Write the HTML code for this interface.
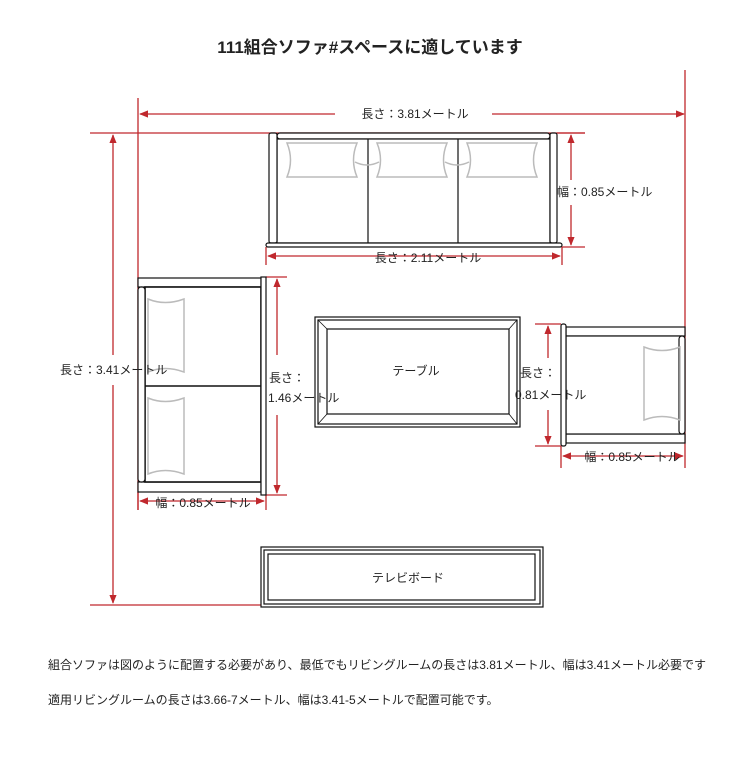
<!DOCTYPE html>
<html><head><meta charset="utf-8"><style>
body{margin:0;background:#fff}
svg{display:block}
text{font-family:"Liberation Sans","Noto Sans CJK JP",sans-serif;fill:#222}
</style></head><body>
<svg width="750" height="759" viewBox="0 0 750 759" xmlns="http://www.w3.org/2000/svg">
<defs>
<marker id="a" viewBox="0 0 10 10" refX="9" refY="5" markerWidth="7" markerHeight="7" orient="auto-start-reverse"><path d="M0,1 L10,5 L0,9z" fill="#c0282d"/></marker>
</defs>
<text x="370" y="53" font-size="17" text-anchor="middle" font-weight="bold">111組合ソファ#スペースに適しています</text>
<g stroke="#c0282d" stroke-width="1.3" fill="none">
<line x1="138" y1="98" x2="138" y2="510"/>
<line x1="685" y1="70" x2="685" y2="468"/>
<line x1="90" y1="133" x2="585" y2="133"/>
<line x1="90" y1="605" x2="261" y2="605"/>
<line x1="140" y1="114" x2="335" y2="114" marker-start="url(#a)"/>
<line x1="492" y1="114" x2="684" y2="114" marker-end="url(#a)"/>
<line x1="113" y1="135" x2="113" y2="355" marker-start="url(#a)"/>
<line x1="113" y1="385" x2="113" y2="603" marker-end="url(#a)"/>
<line x1="557" y1="133" x2="585" y2="133"/><line x1="562" y1="247" x2="585" y2="247"/>
<line x1="571" y1="135" x2="571" y2="180" marker-start="url(#a)"/>
<line x1="571" y1="205" x2="571" y2="245" marker-end="url(#a)"/>
<line x1="266" y1="247" x2="266" y2="265"/><line x1="562" y1="247" x2="562" y2="265"/>
<line x1="268" y1="256" x2="560" y2="256" marker-start="url(#a)" marker-end="url(#a)"/>
<line x1="266" y1="277" x2="287" y2="277"/><line x1="266" y1="495" x2="287" y2="495"/>
<line x1="277" y1="279" x2="277" y2="355" marker-start="url(#a)"/>
<line x1="277" y1="415" x2="277" y2="493" marker-end="url(#a)"/>
<line x1="138" y1="492" x2="138" y2="510"/><line x1="266" y1="495" x2="266" y2="510"/>
<line x1="140" y1="501" x2="264" y2="501" marker-start="url(#a)" marker-end="url(#a)"/>
<line x1="535" y1="324" x2="561" y2="324"/><line x1="535" y1="446" x2="561" y2="446"/>
<line x1="548" y1="326" x2="548" y2="358" marker-start="url(#a)"/>
<line x1="548" y1="410" x2="548" y2="444" marker-end="url(#a)"/>
<line x1="561" y1="446" x2="561" y2="468"/>
<line x1="563" y1="456" x2="683" y2="456" marker-start="url(#a)" marker-end="url(#a)"/>
</g>
<g stroke="#111" stroke-width="1.2" fill="#fff">
<rect x="277" y="133" width="273" height="6" rx="3"/>
<rect x="277" y="139" width="273" height="104"/>
<line x1="368" y1="139" x2="368" y2="243"/><line x1="458" y1="139" x2="458" y2="243"/>
<rect x="269" y="133" width="8" height="110" rx="2"/>
<rect x="550" y="133" width="7" height="110" rx="2"/>
<rect x="266" y="243" width="296" height="4" rx="2"/>
<rect x="138" y="278" width="123" height="9"/>
<rect x="138" y="482" width="123" height="10"/>
<rect x="145" y="287" width="116" height="195" stroke-width="1.6"/>
<line x1="145" y1="386" x2="261" y2="386" stroke-width="1.6"/>
<rect x="138" y="287" width="7" height="195" rx="3"/>
<rect x="261" y="277" width="5" height="218"/>
<rect x="315" y="317" width="205" height="110"/>
<rect x="318" y="320" width="199" height="104"/>
<rect x="327" y="329" width="182" height="85"/>
<g stroke-width="0.8"><line x1="318" y1="320" x2="327" y2="329"/><line x1="517" y1="320" x2="509" y2="329"/><line x1="318" y1="424" x2="327" y2="414"/><line x1="517" y1="424" x2="509" y2="414"/></g>
<rect x="566" y="327" width="119" height="9"/>
<rect x="566" y="434" width="119" height="9"/>
<rect x="566" y="336" width="116" height="98"/>
<rect x="679" y="336" width="6" height="98" rx="3"/>
<rect x="561" y="324" width="5" height="122" rx="2"/>
<rect x="261" y="547" width="282" height="60"/>
<rect x="264" y="550" width="276" height="54"/>
<rect x="268" y="554" width="267" height="46"/>
</g>
<g stroke="#bbb" stroke-width="1.5" fill="none">
<path d="M287,143 H357 Q350,160 357,177 H287 Q294,160 287,143Z"/>
<path d="M377,143 H447 Q440,160 447,177 H377 Q384,160 377,143Z"/>
<path d="M467,143 H537 Q530,160 537,177 H467 Q474,160 467,143Z"/>
<path d="M355,162 Q367,168 379,162 M445,162 Q457,168 469,162"/>
<path d="M148,299 Q165,306 184,299 V372 Q165,365 148,372Z"/>
<path d="M148,398 Q165,405 184,398 V474 Q165,467 148,474Z"/>
<path d="M644,347 Q662,354 680,347 V420 Q662,413 644,420Z"/>
</g>
<g font-size="12">
<text x="415" y="118" text-anchor="middle">長さ：3.81メートル</text>
<text x="557" y="196">幅：0.85メートル</text>
<text x="428" y="262" text-anchor="middle">長さ：2.11メートル</text>
<text x="60" y="374">長さ：3.41メートル</text>
<text x="269" y="382">長さ：</text>
<text x="268" y="402">1.46メートル</text>
<text x="416" y="375" text-anchor="middle">テーブル</text>
<text x="520" y="377">長さ：</text>
<text x="515" y="399">0.81メートル</text>
<text x="203" y="507" text-anchor="middle">幅：0.85メートル</text>
<text x="632" y="461" text-anchor="middle">幅：0.85メートル</text>
<text x="408" y="582" text-anchor="middle">テレビボード</text>
</g>
<g font-size="12">
<text x="48" y="669" textLength="658" lengthAdjust="spacingAndGlyphs">組合ソファは図のように配置する必要があり、最低でもリビングルームの長さは3.81メートル、幅は3.41メートル必要です</text>
<text x="48" y="704">適用リビングルームの長さは3.66-7メートル、幅は3.41-5メートルで配置可能です。</text>
</g>
</svg>
</body></html>
